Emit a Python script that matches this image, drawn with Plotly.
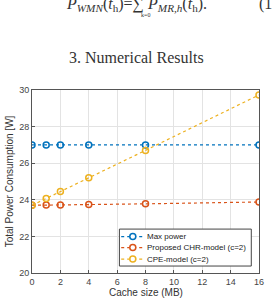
import plotly.graph_objects as go

cache = [0, 1, 2, 4, 8, 16]
max_power = [27.0, 27.0, 27.0, 27.0, 27.0, 27.0]
chr_model = [23.7, 23.72, 23.72, 23.74, 23.78, 23.88]
cpe_model = [23.7, 24.07, 24.45, 25.2, 26.7, 29.73]

names = ["Max power", "Proposed CHR-model (c=2)", "CPE-model (c=2)"]
colors = ["#0072BD", "#D95319", "#EDB120"]
series = [max_power, chr_model, cpe_model]

fig = go.Figure()
for n, c, s in zip(names, colors, series):
    fig.add_trace(go.Scatter(
        x=cache, y=s, name=n, mode="lines+markers", showlegend=False,
        line=dict(color=c, width=1.2, dash="dot"),
        marker=dict(symbol="circle-open", size=6, color=c, line=dict(width=1.5, color=c)),
    ))

axis_common = dict(
    showgrid=True, gridcolor="#e3e3e3", gridwidth=1,
    showline=True, linecolor="#555555", linewidth=1, mirror=True,
    ticks="inside", ticklen=3, tickcolor="#555555",
    tickfont=dict(family="Liberation Sans, Arial", size=9, color="#444444"),
    zeroline=False,
)

fig.update_xaxes(range=[0, 16], dtick=2, **axis_common)
fig.update_yaxes(range=[20, 30], dtick=2, **axis_common,
                 title=dict(text="Total Power Consumption [W]", standoff=3,
                            font=dict(family="Liberation Sans, Arial", size=10, color="#333333")))

sans = "Liberation Sans, Arial"
serif = "Liberation Serif, DejaVu Serif"

# x-axis title
fig.add_annotation(xref="paper", yref="paper", x=0.5, y=-0.109, yanchor="middle",
                   text="Cache size (MB)", showarrow=False,
                   font=dict(family=sans, size=10, color="#333333"))

# page text around the figure
fig.add_annotation(xref="paper", yref="paper", x=0.46, y=1.0, yshift=33, yanchor="middle",
                   text="3. Numerical Results", showarrow=False,
                   font=dict(family=serif, size=16, color="#333333"))
fig.add_annotation(xref="paper", yref="paper", x=0.46, y=1.0, yshift=86, yanchor="middle",
                   text="<i>P</i><sub><i>WMN</i></sub>(<i>t</i><sub>h</sub>)=∑ <i>P</i><sub><i>MR,h</i></sub>(<i>t</i><sub>h</sub>).",
                   showarrow=False,
                   font=dict(family=serif, size=16, color="#333333"))
fig.add_annotation(xref="paper", yref="paper", x=0.5, y=1.0, yshift=75, yanchor="middle",
                   text="k=0", showarrow=False,
                   font=dict(family=serif, size=6, color="#333333"))
fig.add_annotation(xref="paper", yref="paper", x=0.991, y=1.0, yshift=86, xanchor="left", yanchor="middle",
                   text="(1", showarrow=False,
                   font=dict(family=serif, size=16, color="#333333"))

# custom compact legend (MATLAB style)
fig.add_shape(type="rect", xref="paper", yref="paper", x0=0.385, x1=0.966, y0=0.038, y1=0.240,
              line=dict(color="#444444", width=1), fillcolor="white", layer="above")
leg_y = [0.199, 0.139, 0.076]
for n, c, ly in zip(names, colors, leg_y):
    fig.add_shape(type="line", xref="paper", yref="paper", x0=0.393, x1=0.496, y0=ly, y1=ly,
                  line=dict(color=c, width=1.2, dash="dot"), layer="above")
    fig.add_shape(type="circle", xref="paper", yref="paper", x0=-3, x1=3, y0=-3, y1=3,
                  xsizemode="pixel", ysizemode="pixel", xanchor=0.444, yanchor=ly,
                  line=dict(color=c, width=1.5), fillcolor="white", layer="above")
    fig.add_annotation(xref="paper", yref="paper", x=0.496, y=ly, xanchor="left", yanchor="middle",
                       text=n, showarrow=False,
                       font=dict(family=sans, size=8, color="#222222"))

fig.update_layout(
    width=273, height=300,
    margin=dict(l=30, r=9, t=90, b=27),
    paper_bgcolor="white", plot_bgcolor="white",
    showlegend=False,
)

fig.write_html("out.html")
